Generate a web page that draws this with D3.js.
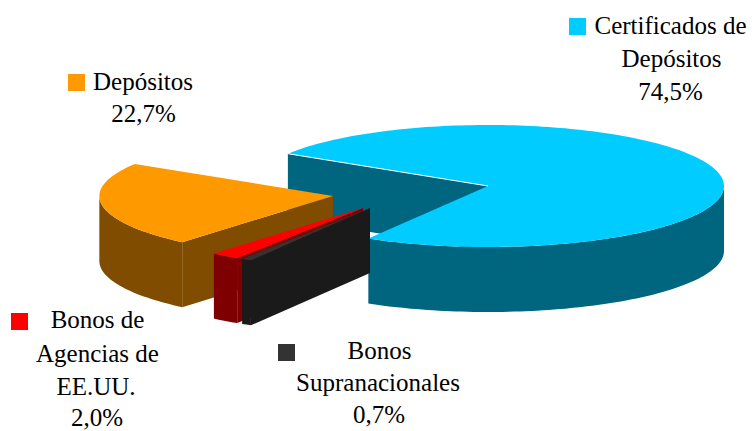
<!DOCTYPE html>
<html>
<head>
<meta charset="utf-8">
<title>Composición de la cartera</title>
<script src="https://d3js.org/d3.v7.min.js"></script>
<style>
  html, body { margin: 0; padding: 0; background: #fff; }
  text { font-family: "Liberation Serif", serif; font-size: 25px; fill: #000; }
</style>
</head>
<body>
<div id="chart"></div>
<script>
// values, clockwise starting at the top left of the big slice
const categories = ["Certificados de Depósitos", "Bonos Supranacionales", "Bonos de Agencias de EE.UU.", "Depósitos"];
const shares = [74.5, 0.7, 2.0, 22.7];
const shareLabels = ["74,5%", "0,7%", "2,0%", "22,7%"];
const topColors = ["#00ccff", "#333333", "#ff0000", "#ff9900"];
const sideColors = ["#006680", "#1a1a1a", "#7f0000", "#7f4c00"];

const width = 752, height = 431;
const cx = 488, cy = 186;   // centre of the big slice
const rx = 236, ry = 61;    // flattened pie
const depth = 65;
const startDeg = 302;

// how far each slice is pulled out, and a small shrink for the pulled slices
const explode = [[0, 0], [-118, 22], [-125, 22], [-155, 10]];
const shrink = [1, 0.995, 0.979, 0.99];
const drawOrder = [0, 3, 2, 1];

// label blocks: swatch position, then the name lines with their centre and baseline
const labels = [
  { swatch: [569, 18], lines: [["Certificados de", 670.5, 34], ["Depósitos", 671.5, 67]], pct: [670.5, 100] },
  { swatch: [278, 344], lines: [["Bonos", 379.5, 359], ["Supranacionales", 378, 391]], pct: [379, 423] },
  { swatch: [11, 313], lines: [["Bonos de", 97.5, 328], ["Agencias de", 97.5, 362], ["EE.UU.", 96, 395]], pct: [97, 426] },
  { swatch: [68, 74], lines: [["Depósitos", 143, 90]], pct: [143.5, 122] }
];

const svg = d3.select("#chart").append("svg")
    .attr("width", width)
    .attr("height", height)
    .style("display", "block");

// d3.pie angle 0 is at twelve o'clock, going clockwise
const pie = d3.pie().sort(null)
    .startAngle(startDeg * Math.PI / 180)
    .endAngle((startDeg + 360) * Math.PI / 180);
const arcs = pie(shares);

const line = d3.line();

function project(a, k, off, dz) {
  const t = a - Math.PI / 2;
  return [cx + off[0] + rx * k * Math.cos(t), cy + off[1] + ry * k * Math.sin(t) + dz];
}

function rim(a0, a1, k, off, dz) {
  const n = Math.max(2, Math.ceil((a1 - a0) * 40));
  return d3.range(n + 1).map(i => project(a0 + (a1 - a0) * i / n, k, off, dz));
}

drawOrder.forEach(i => {
  const a = arcs[i], off = explode[i], k = shrink[i];
  const apex = [cx + off[0], cy + off[1]];
  const apexLow = [apex[0], apex[1] + depth];
  const g = svg.append("g");

  // cut wall at the start angle, this is the one that faces the viewer
  const p = project(a.startAngle, k, off, 0), q = project(a.startAngle, k, off, depth);
  g.append("path").attr("d", line([p, apex, apexLow, q]) + "Z").attr("fill", sideColors[i]);

  // outer wall, only the part on the near side (90 to 270 degrees, every turn)
  const twoPi = 2 * Math.PI;
  [0, 1, 2].forEach(turn => {
    const from = Math.max(a.startAngle, Math.PI / 2 + turn * twoPi);
    const to = Math.min(a.endAngle, 1.5 * Math.PI + turn * twoPi);
    if (to <= from) return;
    const upper = rim(from, to, k, off, 0);
    const lower = rim(from, to, k, off, depth).reverse();
    g.append("path").attr("d", line(upper.concat(lower)) + "Z").attr("fill", sideColors[i]);
  });

  // top face
  g.append("path")
      .attr("d", line([apex].concat(rim(a.startAngle, a.endAngle, k, off, 0))) + "Z")
      .attr("fill", topColors[i]);

  // thin white edge along the notch of the big slice
  if (i === 0) {
    g.append("path")
        .attr("d", line([p, apex]))
        .attr("stroke", "#fff").attr("stroke-width", 1).attr("fill", "none");
  }
});

// labels
labels.forEach((l, i) => {
  svg.append("rect")
      .attr("x", l.swatch[0]).attr("y", l.swatch[1])
      .attr("width", 17).attr("height", 17)
      .attr("fill", topColors[i]);
  l.lines.forEach(t => {
    svg.append("text")
        .attr("x", t[1]).attr("y", t[2])
        .attr("text-anchor", "middle")
        .text(t[0]);
  });
  svg.append("text")
      .attr("x", l.pct[0]).attr("y", l.pct[1])
      .attr("text-anchor", "middle")
      .text(shareLabels[i]);
});
</script>
</body>
</html>
